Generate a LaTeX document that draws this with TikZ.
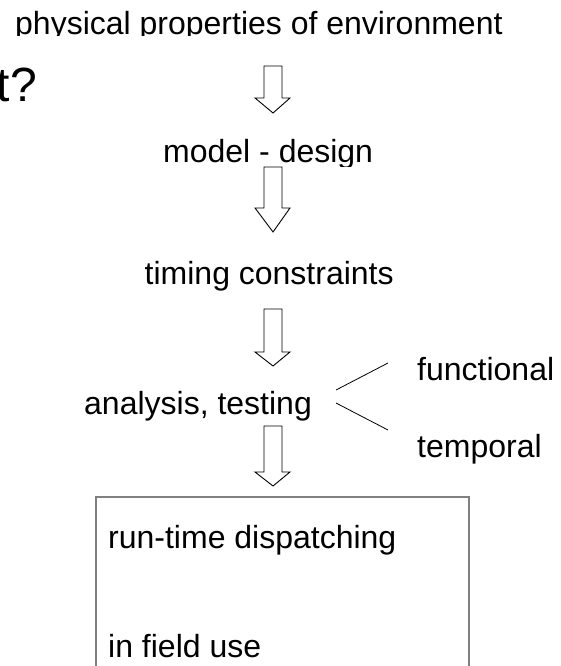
\documentclass[tikz,border=0pt]{standalone}
\usepackage{fontspec}
\setmainfont{Liberation Sans}
\begin{document}
\begin{tikzpicture}[x=1pt,y=-1pt,
  lbl/.style={inner sep=0pt,anchor=base west,font=\fontsize{32}{38}\selectfont},
  bigtxt/.style={inner sep=0pt,anchor=base west,font=\fontsize{48}{56}\selectfont},
  blockarrow/.style={draw=black,line width=0.9pt,fill=white,line join=miter},
  branch/.style={draw=black,line width=0.8pt},
  framebox/.style={draw=black!50,line width=1.4pt}]
\useasboundingbox (0,0) rectangle (561,666);

% title fragment at the left margin
\node[bigtxt] (title) at (-3.5,102) {t?};

% chain of steps (descenders trimmed at the text frame)
\begin{scope}
  \clip (0,0) rectangle (561,35.5);
  \node[lbl] (env) at (15,34.5) {physical properties of environment};
\end{scope}
\begin{scope}
  \clip (0,100) rectangle (561,166);
  \node[lbl] (model) at (163,162.5) {model - design};
\end{scope}
\begin{scope}
  \clip (0,240) rectangle (561,290);
  \node[lbl] (timing) at (144.5,284) {timing constraints};
\end{scope}
\begin{scope}
  \clip (0,380) rectangle (561,420);
  \node[lbl] (analysis) at (84,414) {analysis, testing};
\end{scope}
\node[lbl] (functional) at (417,380) {functional};
\node[lbl] (temporal) at (417,457) {temporal};

% hollow block arrows: #1 top of shaft, #2 base of head, #3 tip
\newcommand\hollowarrow[3]{%
  \draw[blockarrow] (264,#1) -- (264,#2) -- (255,#2) -- (273,#3)
    -- (290,#2) -- (282,#2) -- (282,#1) -- cycle;}
\hollowarrow{66}{98}{113}
\hollowarrow{167}{208}{232}
\hollowarrow{309}{352}{366}
\hollowarrow{426}{472}{486}

% branching to the two kinds of analysis
\coordinate (forkA) at (336,390);
\coordinate (forkB) at (336,403);
\coordinate (toFunc) at (388,363);
\coordinate (toTemp) at (388,430);
\draw[branch] (forkA) -- (toFunc);
\draw[branch] (forkB) -- (toTemp);

% open frame for the run-time stage
\coordinate (frameBL) at (96,672);
\coordinate (frameTL) at (96,497);
\coordinate (frameTR) at (469,497);
\coordinate (frameBR) at (469,672);
\draw[framebox] (frameBL) -- (frameTL) -- (frameTR) -- (frameBR);
\node[lbl] (dispatch) at (108,548) {run-time dispatching};
\node[lbl] (field) at (108,657) {in field use};
\end{tikzpicture}
\end{document}
